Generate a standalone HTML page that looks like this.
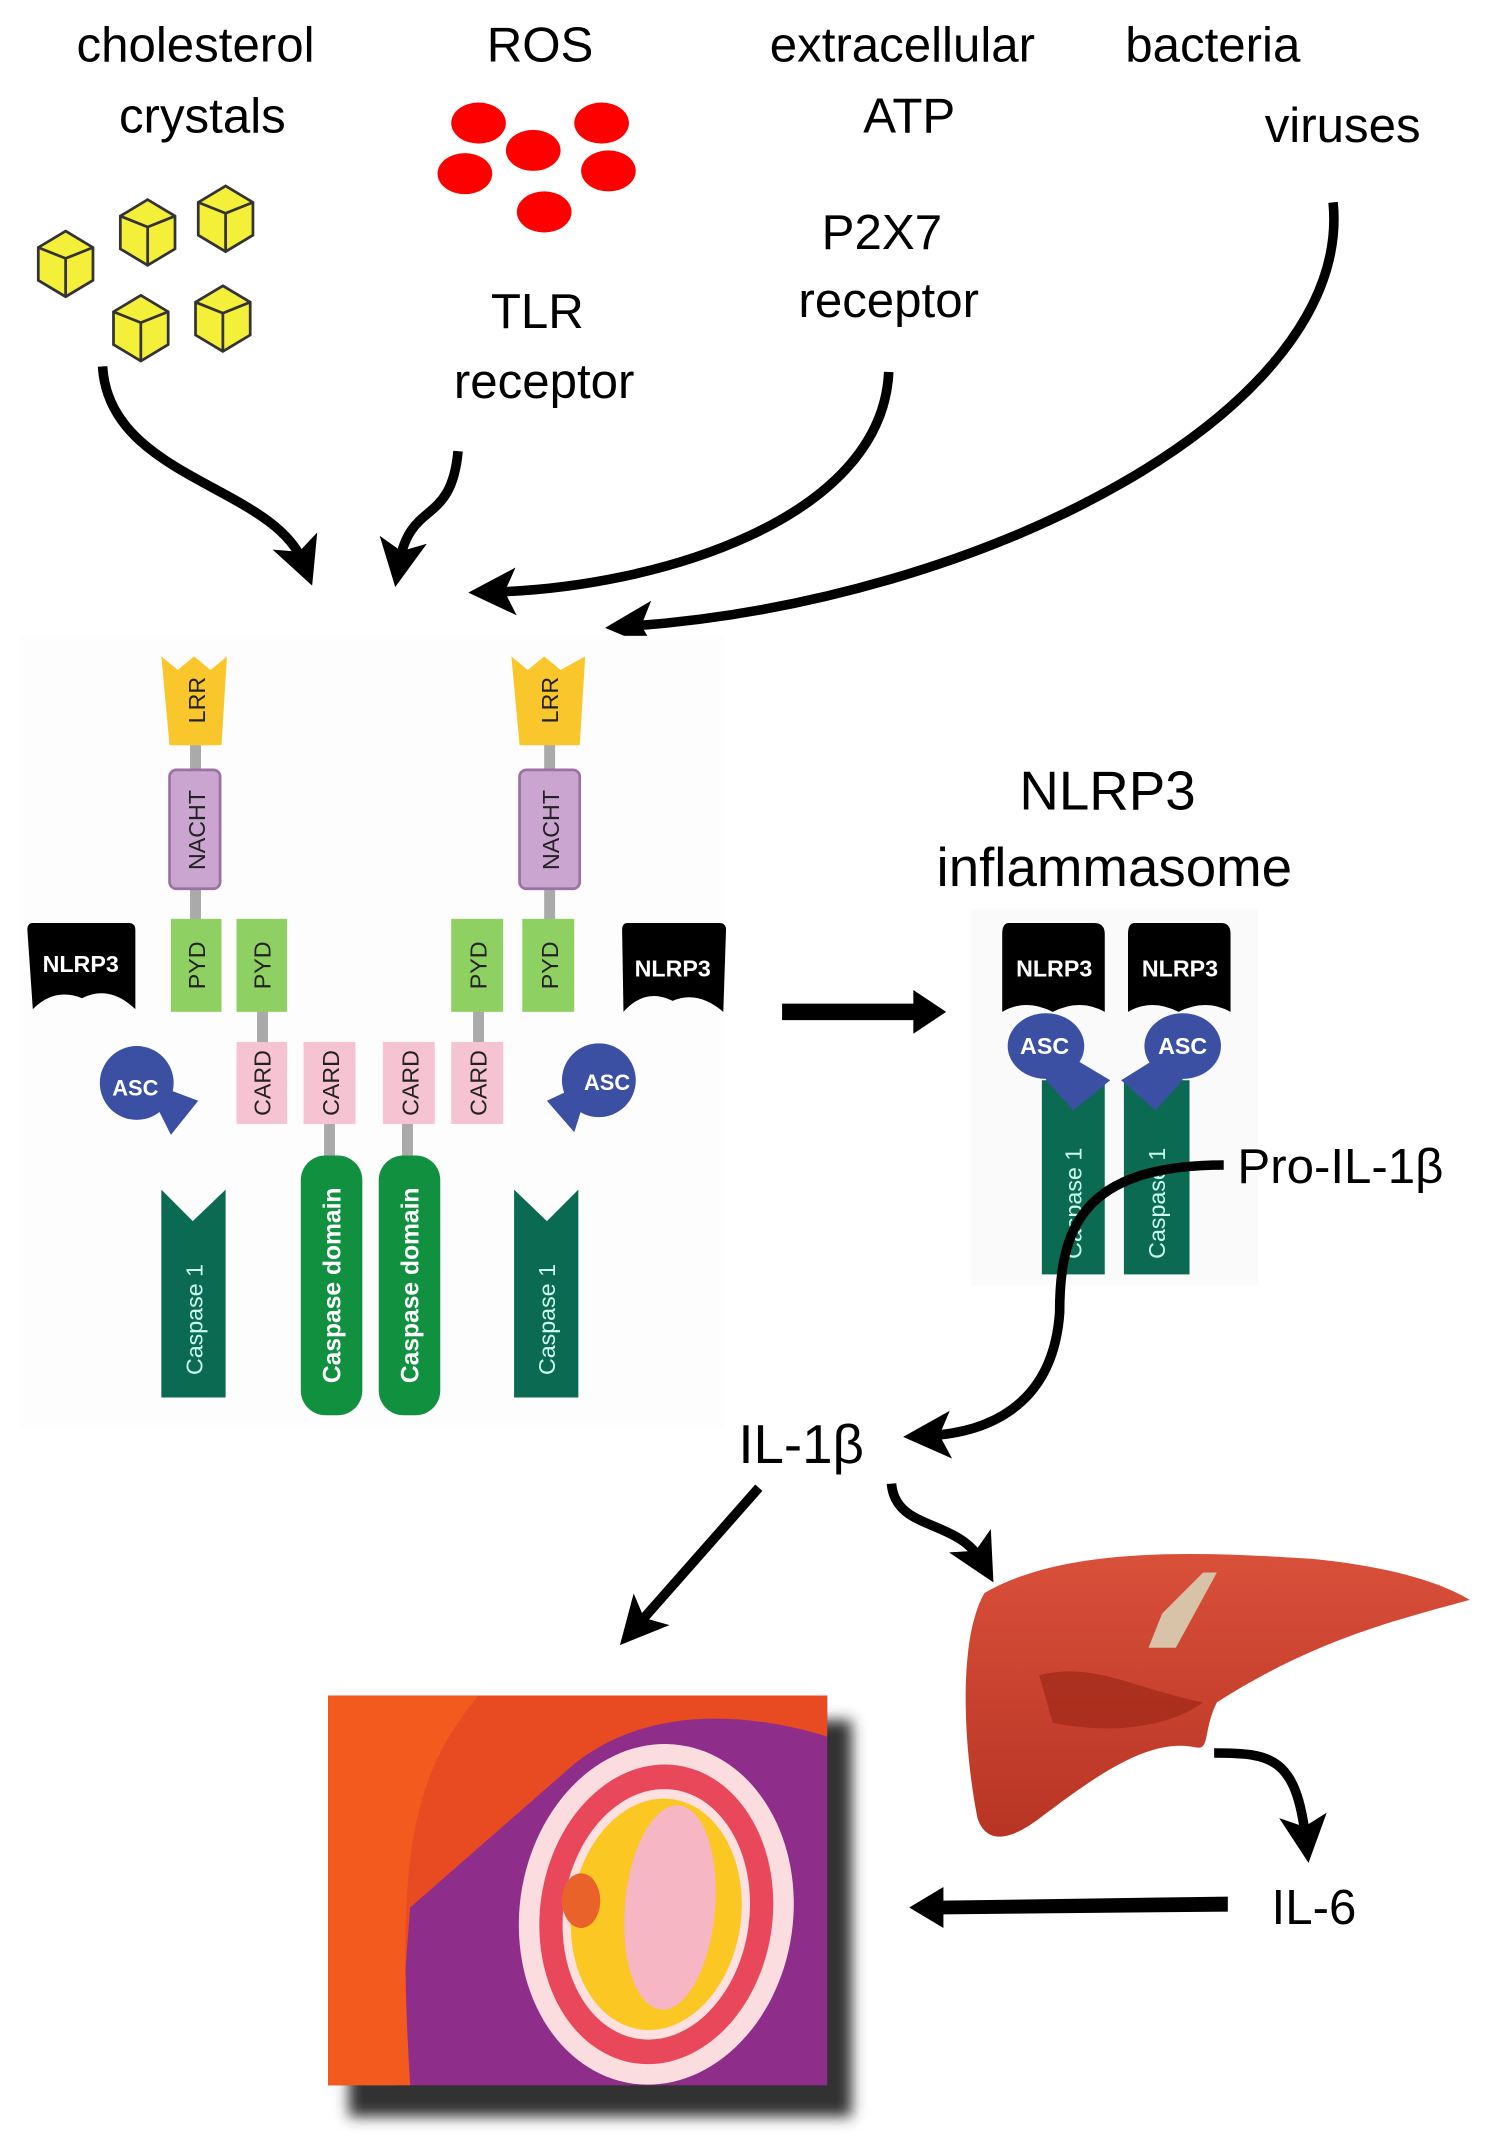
<!DOCTYPE html>
<html><head><meta charset="utf-8"><style>
html,body{margin:0;padding:0;background:#fff}
svg{display:block}
.t{font-family:"Liberation Sans","DejaVu Sans",sans-serif;fill:#000}
.a{fill:none;stroke:#000;stroke-width:7;stroke-linecap:butt}
.s{font-family:"Liberation Sans",sans-serif;font-size:17px;fill:#222}
.w{font-family:"Liberation Sans",sans-serif;font-weight:bold;fill:#fff}
</style></head><body>
<svg width="1504" height="2155" viewBox="0 0 1100 1576" preserveAspectRatio="none" xmlns="http://www.w3.org/2000/svg">
<defs>
<marker id="h" markerWidth="5" markerHeight="5" refX="2.5" refY="2.5" orient="auto" markerUnits="strokeWidth"><path d="M0,0 L5,2.5 L0,5 L1.2,2.5 Z" fill="#000"/></marker>
<filter id="sh" x="-10%" y="-10%" width="130%" height="130%"><feGaussianBlur stdDeviation="5"/></filter>
<linearGradient id="lv" x1="0" y1="0" x2="0" y2="1"><stop offset="0" stop-color="#d9503a"/><stop offset="1" stop-color="#b83424"/></linearGradient>
</defs>
<!-- top labels -->
<g class="t" font-size="36" text-anchor="middle">
<text x="143" y="45">cholesterol</text><text x="148" y="97">crystals</text>
<text x="395" y="45">ROS</text>
<text x="660" y="45">extracellular</text><text x="665" y="97">ATP</text>
<text x="887" y="45">bacteria</text><text x="982" y="104">viruses</text>
<text x="645" y="182">P2X7</text><text x="650" y="232">receptor</text>
<text x="393" y="240">TLR</text><text x="398" y="291">receptor</text>
</g>
<g fill="#f00">
<ellipse cx="350" cy="90" rx="20" ry="15"/><ellipse cx="440" cy="90" rx="20" ry="15"/><ellipse cx="340" cy="127" rx="20" ry="15"/><ellipse cx="390" cy="110" rx="20" ry="15"/><ellipse cx="445" cy="125" rx="20" ry="15"/><ellipse cx="398" cy="155" rx="20" ry="15"/>
</g>
<g fill="#f4f03a" stroke="#333" stroke-width="2">
<g transform="translate(48,193)"><path d="M0,-24 L20,-12 L20,12 L0,24 L-20,12 L-20,-12Z"/><path d="M-20,-12 L0,-4 L20,-12 M0,-4 L0,24" fill="none"/></g>
<g transform="translate(108,170)"><path d="M0,-24 L20,-12 L20,12 L0,24 L-20,12 L-20,-12Z"/><path d="M-20,-12 L0,-4 L20,-12 M0,-4 L0,24" fill="none"/></g>
<g transform="translate(165,160)"><path d="M0,-24 L20,-12 L20,12 L0,24 L-20,12 L-20,-12Z"/><path d="M-20,-12 L0,-4 L20,-12 M0,-4 L0,24" fill="none"/></g>
<g transform="translate(103,240)"><path d="M0,-24 L20,-12 L20,12 L0,24 L-20,12 L-20,-12Z"/><path d="M-20,-12 L0,-4 L20,-12 M0,-4 L0,24" fill="none"/></g>
<g transform="translate(163,233)"><path d="M0,-24 L20,-12 L20,12 L0,24 L-20,12 L-20,-12Z"/><path d="M-20,-12 L0,-4 L20,-12 M0,-4 L0,24" fill="none"/></g>
</g>
<!-- arrows top -->
<path class="a" marker-end="url(#h)" d="M75,268 C80,350 200,355 222,412"/>
<path class="a" marker-end="url(#h)" d="M335,330 C330,385 300,365 292,412"/>
<path class="a" marker-end="url(#h)" d="M650,272 C645,380 480,430 360,433"/>
<path class="a" marker-end="url(#h)" d="M975,148 C990,300 720,440 460,458"/>
<!-- left panel bg -->
<rect x="15" y="465" width="515" height="580" fill="#fdfdfd"/>
<g stroke="#aaa" stroke-width="8">
<line x1="143" y1="540" x2="143" y2="680"/><line x1="402" y1="540" x2="402" y2="680"/>
<line x1="192" y1="735" x2="192" y2="770"/><line x1="350" y1="735" x2="350" y2="770"/>
<line x1="241" y1="815" x2="241" y2="850"/><line x1="298" y1="815" x2="298" y2="850"/>
</g>
<g fill="#f9c72c"><path d="M118,480 L130,490 L142,480 L154,490 L166,480 L162,545 L124,545 Z"/><path d="M374,480 L386,490 L398,480 L410,490 L428,480 L424,545 L380,545 Z"/></g>
<g fill="#c9a5d0" stroke="#9b72a3" stroke-width="2"><rect x="124" y="563" width="37" height="87" rx="5"/><rect x="380" y="563" width="44" height="87" rx="5"/></g>
<g fill="#8fd063"><rect x="125" y="672" width="37" height="68"/><rect x="173" y="672" width="37" height="68"/><rect x="330" y="672" width="38" height="68"/><rect x="382" y="672" width="38" height="68"/></g>
<g fill="#f6c3d3"><rect x="173" y="762" width="37" height="60"/><rect x="222" y="762" width="38" height="60"/><rect x="280" y="762" width="38" height="60"/><rect x="330" y="762" width="38" height="60"/></g>
<g fill="#119040"><rect x="220" y="845" width="45" height="190" rx="18"/><rect x="277" y="845" width="45" height="190" rx="18"/></g>
<g fill="#0b6a52"><path d="M118,870 L141,893 L165,870 L165,1022 L118,1022Z"/><path d="M376,870 L400,893 L423,870 L423,1022 L376,1022Z"/></g>
<g fill="#000"><path d="M24,675 L94,675 Q99,675 99,680 L99,738 Q80,720 60,730 Q40,722 24,738 L20,680 Q20,675 24,675Z"/><path d="M459,675 L526,675 Q531,675 531,680 L529,740 Q510,724 492,732 Q472,722 456,740 L455,680 Q455,675 459,675Z"/></g>
<g fill="#3b50a3"><circle cx="100" cy="792" r="27"/><path d="M105,790 L145,805 L125,830Z"/><circle cx="438" cy="790" r="27"/><path d="M432,790 L400,805 L420,828Z"/></g>
<g class="s" font-size="17">
<text transform="translate(150,512) rotate(-90)" text-anchor="middle">LRR</text>
<text transform="translate(408,512) rotate(-90)" text-anchor="middle">LRR</text>
<text transform="translate(150,607) rotate(-90)" text-anchor="middle">NACHT</text>
<text transform="translate(409,607) rotate(-90)" text-anchor="middle">NACHT</text>
<text transform="translate(150,706) rotate(-90)" text-anchor="middle">PYD</text>
<text transform="translate(198,706) rotate(-90)" text-anchor="middle">PYD</text>
<text transform="translate(356,706) rotate(-90)" text-anchor="middle">PYD</text>
<text transform="translate(408,706) rotate(-90)" text-anchor="middle">PYD</text>
<text transform="translate(198,792) rotate(-90)" text-anchor="middle">CARD</text>
<text transform="translate(248,792) rotate(-90)" text-anchor="middle">CARD</text>
<text transform="translate(306,792) rotate(-90)" text-anchor="middle">CARD</text>
<text transform="translate(356,792) rotate(-90)" text-anchor="middle">CARD</text>
</g>
<g class="w" font-size="18">
<text transform="translate(249,940) rotate(-90)" text-anchor="middle">Caspase domain</text>
<text transform="translate(306,940) rotate(-90)" text-anchor="middle">Caspase domain</text>
</g>
<g font-family="Liberation Sans,sans-serif" font-size="17" fill="#cfe">
<text transform="translate(148,965) rotate(-90)" text-anchor="middle">Caspase 1</text>
<text transform="translate(406,965) rotate(-90)" text-anchor="middle">Caspase 1</text>
</g>
<g class="w" font-size="17" text-anchor="middle"><text x="59" y="711">NLRP3</text><text x="492" y="714">NLRP3</text><text x="99" y="801" font-size="16">ASC</text><text x="444" y="797" font-size="16">ASC</text></g>
<!-- middle arrow -->
<path d="M572,734 L668,734 L668,724 L692,740 L668,756 L668,746 L572,746Z" fill="#000"/>
<g class="t" font-size="40" text-anchor="middle"><text x="810" y="592">NLRP3</text><text x="815" y="648">inflammasome</text></g>
<!-- inflammasome -->
<rect x="710" y="665" width="210" height="275" fill="#fafafa"/>
<g fill="#0b6a52"><rect x="762" y="790" width="46" height="142"/><rect x="822" y="790" width="48" height="142"/></g>
<g fill="#000"><path d="M738,675 L800,675 Q808,675 808,683 L808,740 Q790,730 770,740 Q750,730 733,740 L733,683 Q733,675 738,675Z"/><path d="M830,675 L893,675 Q900,675 900,683 L900,740 Q882,730 862,740 Q842,730 825,740 L825,683 Q825,675 830,675Z"/></g>
<g fill="#3b50a3"><ellipse cx="765" cy="765" rx="28" ry="24"/><path d="M770,765 L812,790 L785,812 L765,790Z"/><ellipse cx="865" cy="765" rx="28" ry="24"/><path d="M860,765 L820,790 L845,812 L865,790Z"/></g>
<g class="w" font-size="17" text-anchor="middle"><text x="771" y="714">NLRP3</text><text x="863" y="714">NLRP3</text><text x="764" y="771">ASC</text><text x="865" y="771">ASC</text></g>
<g font-family="Liberation Sans,sans-serif" font-size="17" fill="#cfe"><text transform="translate(791,880) rotate(-90)" text-anchor="middle">Caspase 1</text><text transform="translate(852,880) rotate(-90)" text-anchor="middle">Caspase 1</text></g>
<text class="t" x="905" y="865" font-size="36">Pro-IL-1β</text>
<path class="a" marker-end="url(#h)" d="M895,852 C790,852 775,900 775,960 C770,1030 720,1048 678,1050"/>
<text class="t" x="540" y="1070" font-size="40">IL-1β</text>
<path class="a" marker-end="url(#h)" d="M555,1088 L465,1190"/>
<path class="a" marker-end="url(#h)" d="M652,1085 C655,1120 700,1110 718,1142"/>
<!-- liver -->
<path d="M720,1165 C780,1130 880,1135 960,1140 C1010,1145 1050,1155 1075,1170 C1020,1185 960,1200 890,1245 C880,1265 885,1280 875,1278 C840,1270 800,1300 760,1330 C740,1345 722,1350 715,1330 C705,1280 700,1200 720,1165Z" fill="url(#lv)"/>
<path d="M760,1225 C800,1215 830,1235 880,1245 C860,1260 820,1270 770,1260Z" fill="#a02818" opacity=".7"/>
<path d="M850,1180 L880,1150 L890,1150 L860,1205 L840,1205Z" fill="#d8c2a8"/>
<path class="a" marker-end="url(#h)" d="M888,1282 C930,1282 948,1285 955,1345"/>
<text class="t" x="930" y="1407" font-size="36">IL-6</text>
<path d="M898,1387 L690,1390 L690,1380 L665,1395 L690,1410 L690,1400 L898,1398Z" fill="#000"/>
<!-- vessel -->
<rect x="255" y="1258" width="368" height="290" fill="#333" filter="url(#sh)"/>
<rect x="240" y="1240" width="365" height="285" fill="#8e2e8a"/>
<path d="M240,1240 L605,1240 L605,1270 C540,1250 470,1250 420,1290 L300,1395 L290,1525 L240,1525Z" fill="#e84a22"/>
<path d="M240,1240 L350,1240 C300,1300 290,1360 300,1525 L240,1525Z" fill="#f25a1e"/>
<ellipse cx="480" cy="1400" rx="100" ry="125" transform="rotate(8 480 1400)" fill="#fbdde0"/>
<ellipse cx="480" cy="1400" rx="85" ry="110" transform="rotate(8 480 1400)" fill="#e8485a"/>
<ellipse cx="480" cy="1400" rx="68" ry="92" transform="rotate(8 480 1400)" fill="#fde0e0"/>
<ellipse cx="480" cy="1400" rx="62" ry="85" transform="rotate(8 480 1400)" fill="#fbc722"/>
<ellipse cx="490" cy="1395" rx="33" ry="75" transform="rotate(5 490 1395)" fill="#f6b6c4"/>
<ellipse cx="425" cy="1390" rx="14" ry="20" fill="#e8622a"/>
</svg>
</body></html>
